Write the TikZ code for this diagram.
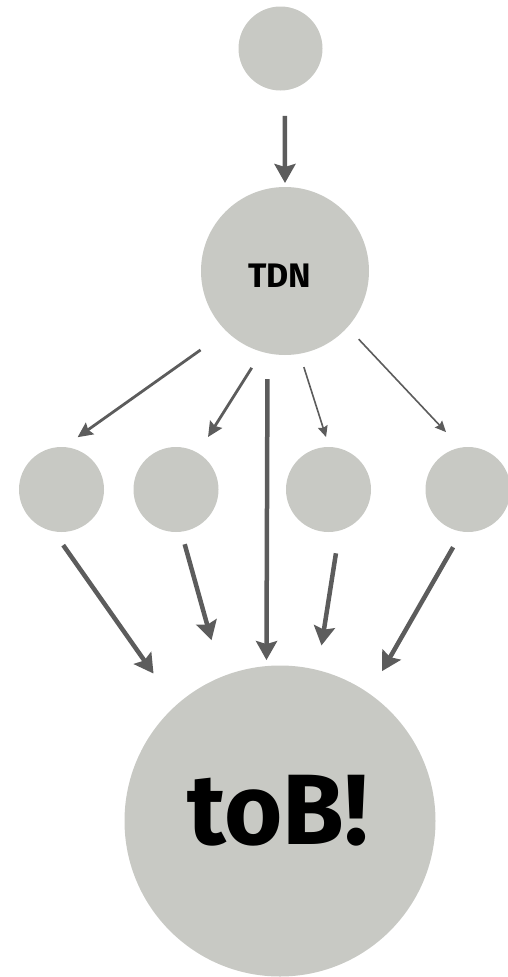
\documentclass[tikz,border=0pt]{standalone}
\usepackage{fontspec}
\newfontfamily\brushfont{Fira Sans}
\usetikzlibrary{positioning}
\usetikzlibrary{arrows.meta}
\definecolor{blobgray}{RGB}{200,201,196}
\definecolor{arrowgray}{RGB}{92,92,92}

\begin{document}
\begin{tikzpicture}[
        x = 1pt, y = -1pt,
        blob/.style = {
            circle,
            fill = blobgray,
            minimum size = #1,
            inner sep = 0pt,
            outer sep = 0pt
        },
        blob/.default = 85pt,
        fatarrow/.style = {
            draw = arrowgray, line width = 4.5pt,
            -{Stealth[length=19pt, width=21pt, inset=3pt]}
        },
        midarrow/.style = {
            draw = arrowgray, line width = 2.8pt,
            -{Stealth[length=15pt, width=14pt, inset=2pt]}
        },
        slimarrow/.style = {
            draw = arrowgray, line width = 1.6pt,
            -{Stealth[length=11pt, width=10pt, inset=1.5pt]}
        }
        ]
        \useasboundingbox (0,0) rectangle (507,977);
%
        \node[blob=84pt] (src) at (280.5,48.5) {};
        \node[blob=168pt, label={[font=\brushfont\bfseries\fontsize{34}{36}\selectfont, xshift=-5pt, yshift=-5pt]center:TDN}] (tdn) at (285,271) {};
%
        \node[blob] (m1) at (61.5,489.5) {};
        \node[blob] (m2) [right=29.5pt of m1] {};
        \node[blob] (m3) [right=67.5pt of m2] {};
        \node[blob] (m4) [right=54.5pt of m3] {};
%
        \node[blob=311pt, label={[font=\brushfont\bfseries\fontsize{100}{100}\selectfont, xshift=-2pt, yshift=10pt]center:toB!}] (tob) at (280,821) {};
%
        \draw[fatarrow, shorten <=25.7pt, shorten >=4pt] (src.276) -- (tdn.90);
%
        \draw[midarrow, shorten <=32pt, shorten >=17pt] (tdn.226) -- (m1.87);
        \draw[midarrow, shorten <=19pt, shorten >=19pt] (tdn.254) -- (m2.59);
        \draw[fatarrow, shorten <=26pt, shorten >=6pt] (tdn.258) -- (tob.95);
        \draw[slimarrow, shorten <=14pt, shorten >=10.5pt] (tdn.280) -- (m3.89);
        \draw[slimarrow, shorten <=16.5pt, shorten >=21.4pt] (tdn.318) -- (m4.100);
%
        \draw[fatarrow, shorten <=17pt, shorten >=39pt] (m1.259) -- (tob.132);
        \draw[fatarrow, shorten <=13pt, shorten >=38pt] (m2.277) -- (tob.112);
        \draw[fatarrow, shorten <=23pt, shorten >=25pt] (m3.285) -- (tob.76);
        \draw[fatarrow, shorten <=18pt, shorten >=26pt] (m4.262) -- (tob.55);
\end{tikzpicture}
\end{document}
